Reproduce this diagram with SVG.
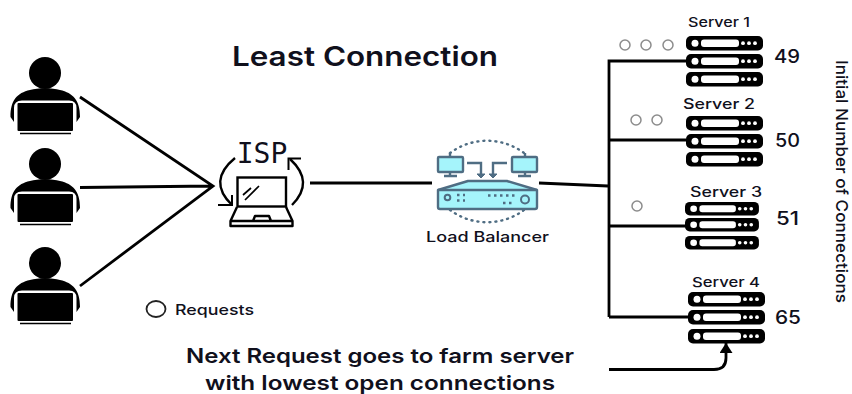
<svg xmlns="http://www.w3.org/2000/svg" width="852" height="394" viewBox="0 0 852 394">
<style>
text{font-family:Inter,"Noto Sans","Liberation Sans",sans-serif;fill:#10101c}
.c{stroke:#000;fill:none;stroke-linecap:butt}
.t{text-anchor:middle}
.srv{font-size:14px;font-weight:500;text-anchor:middle}
.num{font-size:18.500px;font-weight:500;text-anchor:middle}
.bot{font-size:20px;font-weight:600;text-anchor:middle}
.q{fill:none;stroke:#8c8c8c;stroke-width:1.500}
.ic{stroke:#4f6d83;stroke-width:2.400;fill:#a5f4fb;stroke-linejoin:round}
.il{stroke:#4f6d83;stroke-width:2.400;fill:none}
</style>
<defs>
<g id="person">
<circle cx="45" cy="73" r="16"/>
<path d="M10.500 117C10.500 100 17 93 30 90C38 87.500 52 87.500 60 90C73 93 80 100 80 117L76.500 122V108Q76.500 100.500 69 100.500H22Q14 100.500 14 108V122Z"/>
<rect x="17.500" y="103" width="55.500" height="28" rx="1"/>
<path d="M20 133.500H71" stroke="#000" stroke-width="1.500"/>
</g>
<g id="rack">
<rect x="0" y="0" width="77" height="14.500" rx="5" fill="#000"/>
<circle cx="9" cy="7.200" r="3.500" fill="#fff"/>
<rect x="15" y="3.500" width="38" height="7.500" rx="3" fill="#fff"/>
<circle cx="57" cy="7.200" r="1.900" fill="#fff"/><circle cx="63" cy="7.200" r="1.900" fill="#fff"/><circle cx="69" cy="7.200" r="1.900" fill="#fff"/>
</g>
<marker id="ah" viewBox="0 0 10 13" refX="10" refY="6.500" markerWidth="10" markerHeight="13" markerUnits="userSpaceOnUse" orient="auto"><path d="M0 0L10 6.500L0 13Z" fill="#000"/></marker>
</defs>

<g id="connectors">
<path class="c" stroke-width="2.800" d="M80 97L213 186L80 286M80 187.500L213 186"/>
<path class="c" stroke-width="2.800" d="M310 183H432M539 183L608 186"/>
<path class="c" stroke-width="2.800" d="M609 317V61H686M609 140H686M609 226H686M609 317H688"/>
<path class="c" stroke-width="2.800" marker-end="url(#ah)" d="M609 369.500H714Q726 369.500 726 358V343"/>
</g>

<text id="title" x="365" y="66" class="t" font-size="27" font-weight="600" textLength="266" lengthAdjust="spacingAndGlyphs">Least Connection</text>

<g id="user-1"><use href="#person"/></g>
<g id="user-2"><use href="#person" y="91"/></g>
<g id="user-3"><use href="#person" y="190"/></g>

<g id="isp">
<text x="262" y="163" class="t" style="font-family:'DejaVu Sans Mono','Liberation Mono',monospace;font-size:28px">ISP</text>
<rect x="237.500" y="177.500" width="48.500" height="29" fill="none" stroke="#000" stroke-width="2.400"/>
<path d="M243 195L251 188M245 200L259 186" stroke="#000" stroke-width="1.700" fill="none"/>
<path d="M237 207L230.500 221V226H292.500V221L286 207M231 221H292M253 221L255 216H269L271 221" fill="none" stroke="#000" stroke-width="2.400" stroke-linejoin="round"/>
<path d="M235 158Q207 181 232 205" fill="none" stroke="#000" stroke-width="2.400"/>
<path d="M218 205H232V195" fill="none" stroke="#000" stroke-width="2"/>
<path d="M292 205Q315 182 290 159" fill="none" stroke="#000" stroke-width="2.400"/>
<path d="M301 158.500H288.500V170" fill="none" stroke="#000" stroke-width="2"/>
</g>

<g id="load-balancer">
<path d="M450 153A62 62 0 0 1 524 153M450 210A62 62 0 0 0 524 210" fill="none" stroke="#4f6d83" stroke-width="2.400" stroke-dasharray="1 5" stroke-linecap="round"/>
<rect class="ic" x="438" y="157" width="25" height="15" rx="1"/>
<path class="il" d="M450 172V175M444 176H457M450 156V153"/>
<rect class="ic" x="512" y="157" width="25" height="15" rx="1"/>
<path class="il" d="M525 172V175M518 176H531M525 156V153"/>
<path class="il" d="M467 163H481V175M507 163H493V175"/>
<path d="M477 174H485L481 178ZM489 174H497L493 178Z" fill="#4f6d83" stroke="#4f6d83"/>
<path class="ic" d="M438 190L468 181H507L537 190V207Q537 209 535 209H440Q438 209 438 207Z"/>
<path class="il" d="M438 190H537"/>
<circle cx="447.500" cy="197.500" r="2.800" fill="none" stroke="#4f6d83" stroke-width="2"/>
<circle cx="525" cy="199.500" r="4" fill="none" stroke="#4f6d83" stroke-width="2"/>
<path d="M457 195H465M457 200.500H465M488 195.500H515M503 203H515" stroke="#4f6d83" stroke-width="2.400" stroke-dasharray="2.500 3.500" fill="none"/>
<text x="487.500" y="242" class="t" font-size="14.500" font-weight="500" textLength="123" lengthAdjust="spacingAndGlyphs">Load Balancer</text>
</g>

<g id="server-1">
<text x="719" y="27" class="srv" style="font-size:13px" textLength="62" lengthAdjust="spacingAndGlyphs">Server 1</text>
<use href="#rack" x="686" y="36"/><use href="#rack" x="686" y="54"/><use href="#rack" x="686" y="72"/>
<text x="787" y="63" class="num" textLength="26" lengthAdjust="spacingAndGlyphs">49</text>
<circle class="q" cx="625" cy="45" r="5"/><circle class="q" cx="646" cy="45" r="5"/><circle class="q" cx="668" cy="45" r="5"/>
</g>
<g id="server-2">
<text x="719" y="109" class="srv" style="font-size:14.500px" textLength="72" lengthAdjust="spacingAndGlyphs">Server 2</text>
<use href="#rack" x="686" y="116"/><use href="#rack" x="686" y="134"/><use href="#rack" x="686" y="152"/>
<text x="787.500" y="147" class="num" textLength="25" lengthAdjust="spacingAndGlyphs">50</text>
<circle class="q" cx="636" cy="120" r="5"/><circle class="q" cx="657" cy="120" r="5"/>
</g>
<g id="server-3">
<text x="726" y="197" class="srv" textLength="72" lengthAdjust="spacingAndGlyphs">Server 3</text>
<g transform="translate(685 202) scale(.96 .93)"><use href="#rack"/></g>
<g transform="translate(685 218) scale(.96 .93)"><use href="#rack"/></g>
<g transform="translate(685 236) scale(.96 .93)"><use href="#rack"/></g>
<text x="787.500" y="225" class="num" textLength="23" lengthAdjust="spacingAndGlyphs">51</text>
<circle class="q" cx="637" cy="206" r="5"/>
</g>
<g id="server-4">
<text x="726" y="287" class="srv" style="font-size:13.500px" textLength="68" lengthAdjust="spacingAndGlyphs">Server 4</text>
<use href="#rack" x="688" y="292"/><use href="#rack" x="688" y="310"/><use href="#rack" x="688" y="329"/>
<text x="788" y="324" class="num" textLength="26" lengthAdjust="spacingAndGlyphs">65</text>
</g>

<text id="axis-label" transform="translate(836 181.500) rotate(90)" class="t" font-size="16.500" font-weight="500" textLength="243" lengthAdjust="spacingAndGlyphs">Initial Number of Connections</text>

<g id="legend">
<ellipse cx="156" cy="309" rx="9.500" ry="8" fill="none" stroke="#222" stroke-width="1.800"/>
<text x="175" y="315" font-size="14.500" font-weight="500" textLength="79" lengthAdjust="spacingAndGlyphs">Requests</text>
</g>

<g id="note">
<text x="380" y="363" class="bot" textLength="388" lengthAdjust="spacingAndGlyphs">Next Request goes to farm server</text>
<text x="380" y="389.500" class="bot" textLength="350" lengthAdjust="spacingAndGlyphs">with lowest open connections</text>
</g>
</svg>
